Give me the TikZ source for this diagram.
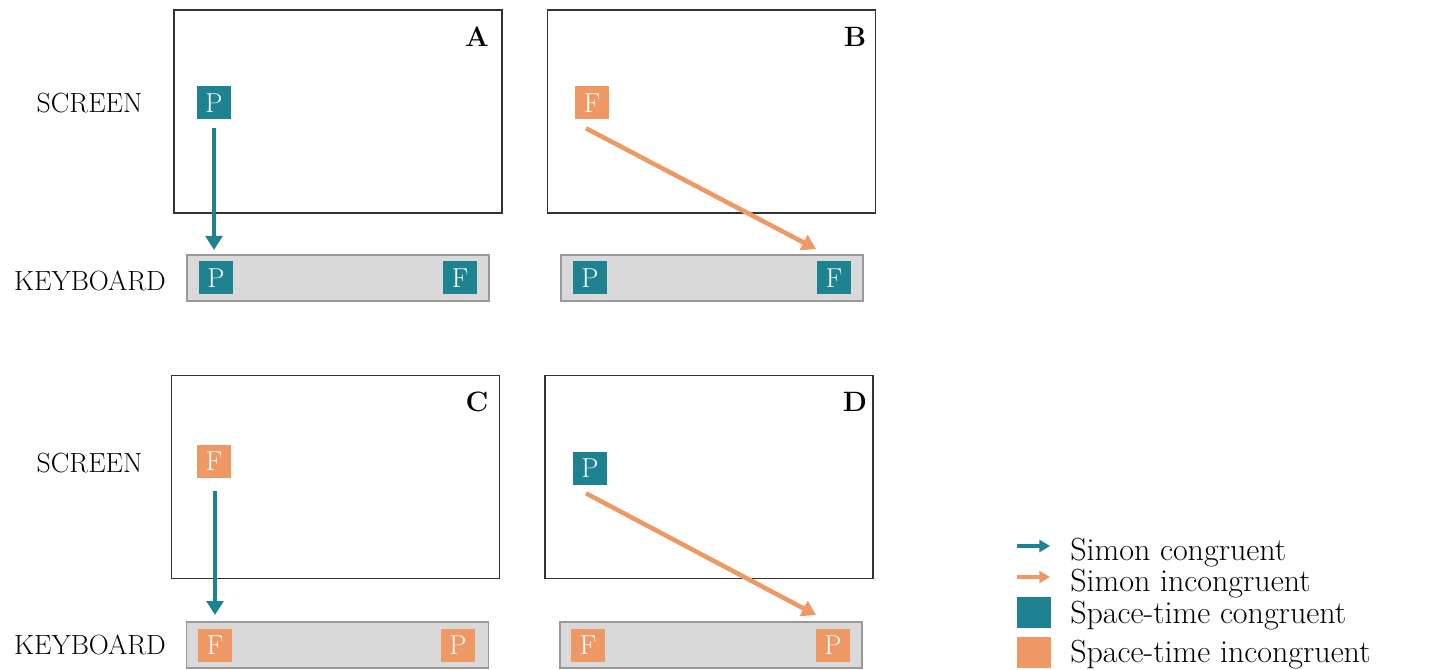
\documentclass[tikz,border=0pt]{standalone}
\usepackage{tikz}
\usetikzlibrary{arrows.meta}
\definecolor{congcol}{RGB}{30,130,145}
\definecolor{incongcol}{RGB}{237,152,101}
\definecolor{keygray}{RGB}{217,217,217}

\begin{document}
\begin{tikzpicture}[x=0.75pt,y=0.75pt,yscale=-1,xscale=1,
    screenbox/.style={draw=black!80,line width=1.1pt,minimum width=246pt,minimum height=152pt,inner sep=0pt},
    keybar/.style={draw=black!40,fill=keygray,line width=1.1pt,minimum width=226.5pt,minimum height=34.5pt,inner sep=0pt},
    keycong/.style={fill=congcol,text=white,minimum width=25.5pt,minimum height=24.75pt,inner sep=0pt,font=\fontsize{20.5}{21}\selectfont},
    keyincong/.style={keycong,fill=incongcol},
    side/.style={font=\fontsize{20.8}{22}\selectfont},
    panel/.style={font=\fontsize{21}{22}\selectfont\bfseries},
    legtext/.style={anchor=base west,inner sep=0pt,font=\fontsize{24}{26}\selectfont},
    simoncong/.style={draw=congcol,line width=3.4pt,-{Triangle[width=12.5pt,length=10.5pt]}},
    simonincong/.style={draw=incongcol,line width=3.4pt,-{Triangle[width=12.5pt,length=10.5pt]}},
    legarrow/.style={line width=2.6pt,-{Triangle[width=9pt,length=8pt]}}
  ]
\useasboundingbox (0,0) rectangle (1446,670);

% row labels
\node[side] (scr1) at (89.5,103) {SCREEN};
\node[side] (kb1) at (90,281) {KEYBOARD};
\node[side] (scr2) at (89.5,463) {SCREEN};
\node[side] (kb2) at (90,645) {KEYBOARD};

% Panel A
\node[screenbox] (scA) at (338,111.5) {};
\node[panel] (labA) at (477,37) {A};
\node[keycong] (sqA) at (214,103) {P};
\node[keybar] (kbA) at (338,278) {};
\node[keycong] (kA1) at (216,278) {P};
\node[keycong] (kA2) at (460,278) {F};
\coordinate (endA) at (214,250);
\draw[simoncong] ([yshift=6.4pt]sqA.south) -- (endA);

% Panel B
\node[screenbox] (scB) at (711.5,111.5) {};
\node[panel] (labB) at (855,37) {B};
\node[keyincong] (sqB) at (592,103) {F};
\node[keybar] (kbB) at (712,278) {};
\node[keycong] (kB1) at (590,278) {P};
\node[keycong] (kB2) at (834,278) {F};
\coordinate (endB) at (816,249);
\draw[simonincong] ([xshift=-4.5pt,yshift=6.4pt]sqB.south) -- (endB);

% Panel C
\node[screenbox] (scC) at (335.5,477) {};
\node[panel] (labC) at (477,402) {C};
\node[keyincong] (sqC) at (214,461) {F};
\node[keybar] (kbC) at (337.5,645) {};
\node[keyincong] (kC1) at (215,645) {F};
\node[keyincong] (kC2) at (458,645) {P};
\coordinate (endC) at (215,615);
\draw[simoncong] ([xshift=0.75pt,yshift=10pt]sqC.south) -- (endC);

% Panel D
\node[screenbox] (scD) at (709,477) {};
\node[panel] (labD) at (855,402) {D};
\node[keycong] (sqD) at (590,468) {P};
\node[keybar] (kbD) at (711,645) {};
\node[keyincong] (kD1) at (588,645) {F};
\node[keyincong] (kD2) at (833,645) {P};
\coordinate (endD) at (816,615);
\draw[simonincong] ([xshift=-3pt,yshift=6.4pt]sqD.south) -- (endD);

% legend
\coordinate (lg1a) at (1017,546);
\coordinate (lg1b) at (1050,546);
\draw[legarrow,draw=congcol] (lg1a) -- (lg1b);
\node[legtext] (lt1) at (1070,560) {Simon congruent};
\coordinate (lg2a) at (1017,577);
\coordinate (lg2b) at (1050,577);
\draw[legarrow,draw=incongcol] (lg2a) -- (lg2b);
\node[legtext] (lt2) at (1070,591) {Simon incongruent};
\node[fill=congcol,minimum width=25.5pt,minimum height=23.5pt,inner sep=0pt] (lsq1) at (1033.5,612.5) {};
\node[legtext] (lt3) at (1070,623) {Space-time congruent};
\node[fill=incongcol,minimum width=25.5pt,minimum height=23.5pt,inner sep=0pt] (lsq2) at (1033.5,652.5) {};
\node[legtext] (lt4) at (1070,662) {Space-time incongruent};

\end{tikzpicture}
\end{document}
